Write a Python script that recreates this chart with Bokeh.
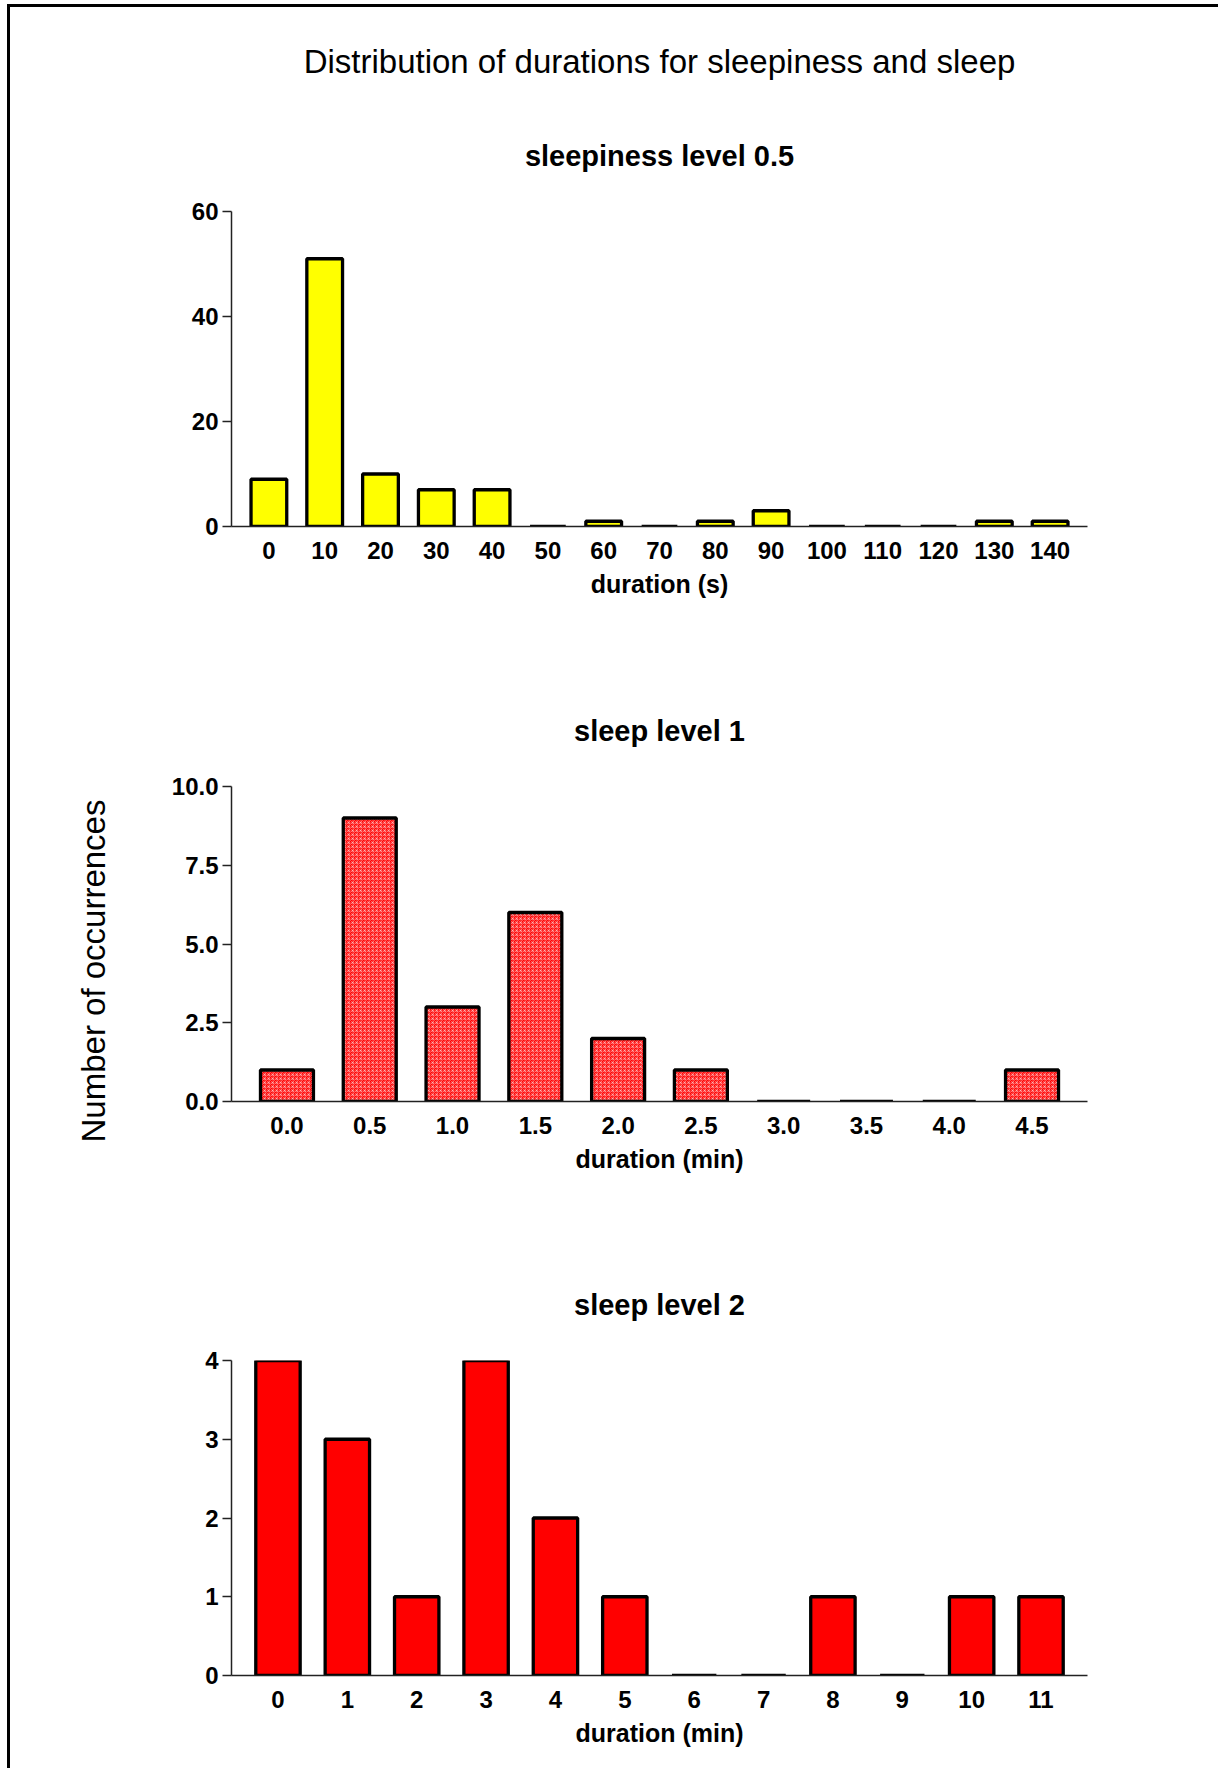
from bokeh.plotting import figure
from bokeh.models import FactorRange, Range1d, FixedTicker, Title, PrintfTickFormatter
from bokeh.layouts import column
from bokeh.embed import file_html
from bokeh.resources import INLINE

main_title = "Distribution of durations for sleepiness and sleep"
y_label = "Number of occurrences"

top_title = "sleepiness level 0.5"
top_cats = ["0", "10", "20", "30", "40", "50", "60", "70", "80", "90",
            "100", "110", "120", "130", "140"]
top_counts = [9, 51, 10, 7, 7, 0, 1, 0, 1, 3, 0, 0, 0, 1, 1]
top_xlabel = "duration (s)"
top_yticks = [0, 20, 40, 60]

mid_title = "sleep level 1"
mid_cats = ["0.0", "0.5", "1.0", "1.5", "2.0", "2.5", "3.0", "3.5", "4.0", "4.5"]
mid_counts = [1, 9, 3, 6, 2, 1, 0, 0, 0, 1]
mid_xlabel = "duration (min)"
mid_yticks = [0, 2.5, 5, 7.5, 10]

bot_title = "sleep level 2"
bot_cats = ["0", "1", "2", "3", "4", "5", "6", "7", "8", "9", "10", "11"]
bot_counts = [4, 3, 1, 4, 2, 1, 0, 0, 1, 0, 1, 1]
bot_xlabel = "duration (min)"
bot_yticks = [0, 1, 2, 3, 4]

FONT = "Liberation Sans"
W = 1208


def style_title(t, size, bold, standoff, align="center"):
    t.align = align
    t.text_font = FONT
    t.text_font_size = size
    t.text_font_style = "bold" if bold else "normal"
    t.text_color = "black"
    t.standoff = standoff


def make_panel(cats, counts, ymax, yticks, fmt, xlabel, title, H, bt, bb, br,
               fill, hatch=None, main=None):
    p = figure(width=W, height=H, x_range=FactorRange(*cats, range_padding=0.17,
                                                      range_padding_units="absolute"),
               y_range=Range1d(0, ymax), output_backend="svg", toolbar_location=None,
               min_border_left=221, min_border_right=br, min_border_top=bt,
               min_border_bottom=bb)
    p.outline_line_color = None
    p.xgrid.visible = False
    p.ygrid.visible = False
    p.background_fill_color = "white"
    p.border_fill_color = "white"

    kw = dict(fill_color=fill, line_color="black", line_width=3.3)
    if hatch:
        kw.update(hatch_pattern=hatch, hatch_color="white", hatch_scale=4,
                  hatch_weight=1, hatch_alpha=0.35)
    p.vbar(x=cats, top=counts, width=0.64, bottom=0, **kw)

    if main is None:
        p.title.text = title
        style_title(p.title, "29px", True, 80)
    else:
        p.title.text = main
        style_title(p.title, "33px", False, 36)
        sub = Title(text=title)
        style_title(sub, "29px", True, 80)
        p.add_layout(sub, "above")

    xa = p.xaxis[0]
    xa.axis_label = xlabel
    xa.axis_label_text_font = FONT
    xa.axis_label_text_font_size = "25px"
    xa.axis_label_text_font_style = "bold"
    xa.axis_label_text_color = "black"
    xa.axis_label_standoff = 8
    xa.major_label_text_font = FONT
    xa.major_label_text_font_size = "24px"
    xa.major_label_text_font_style = "bold"
    xa.major_label_text_color = "black"
    xa.major_label_standoff = 15
    xa.major_tick_line_color = None
    xa.minor_tick_line_color = None
    xa.major_tick_out = 0
    xa.axis_line_color = "#222222"
    xa.axis_line_width = 1.5

    ya = p.yaxis[0]
    ya.ticker = FixedTicker(ticks=yticks)
    if fmt:
        ya.formatter = PrintfTickFormatter(format=fmt)
    ya.major_label_text_font = FONT
    ya.major_label_text_font_size = "24px"
    ya.major_label_text_font_style = "bold"
    ya.major_label_text_color = "black"
    ya.major_label_standoff = 4
    ya.major_tick_out = 9
    ya.major_tick_in = 0
    ya.major_tick_line_color = "#222222"
    ya.major_tick_line_width = 1.5
    ya.minor_tick_line_color = None
    ya.axis_line_color = "#222222"
    ya.axis_line_width = 1.5
    return p


p1 = make_panel(top_cats, top_counts, 60, top_yticks, None, top_xlabel, top_title,
                613, 204, 94, 131, "#ffff00", main=main_title)

p2 = make_panel(mid_cats, mid_counts, 10, mid_yticks, "%.1f", mid_xlabel, mid_title,
                580, 166, 99, 120, "#ff0000", hatch="criss_cross")
ylab = Title(text=y_label, offset=-41)
style_title(ylab, "33px", False, 114, align="left")
p2.add_layout(ylab, "left")

p3 = make_panel(bot_cats, bot_counts, 4, bot_yticks, None, bot_xlabel, bot_title,
                568, 160, 93, 131, "#ff0000")

layout = column(p1, p2, p3, spacing=0,
                styles={"border-left": "3px solid black",
                        "border-top": "3px solid black",
                        "margin-left": "7px", "margin-top": "4px"})

open("out.html", "w").write(file_html(layout, INLINE))
